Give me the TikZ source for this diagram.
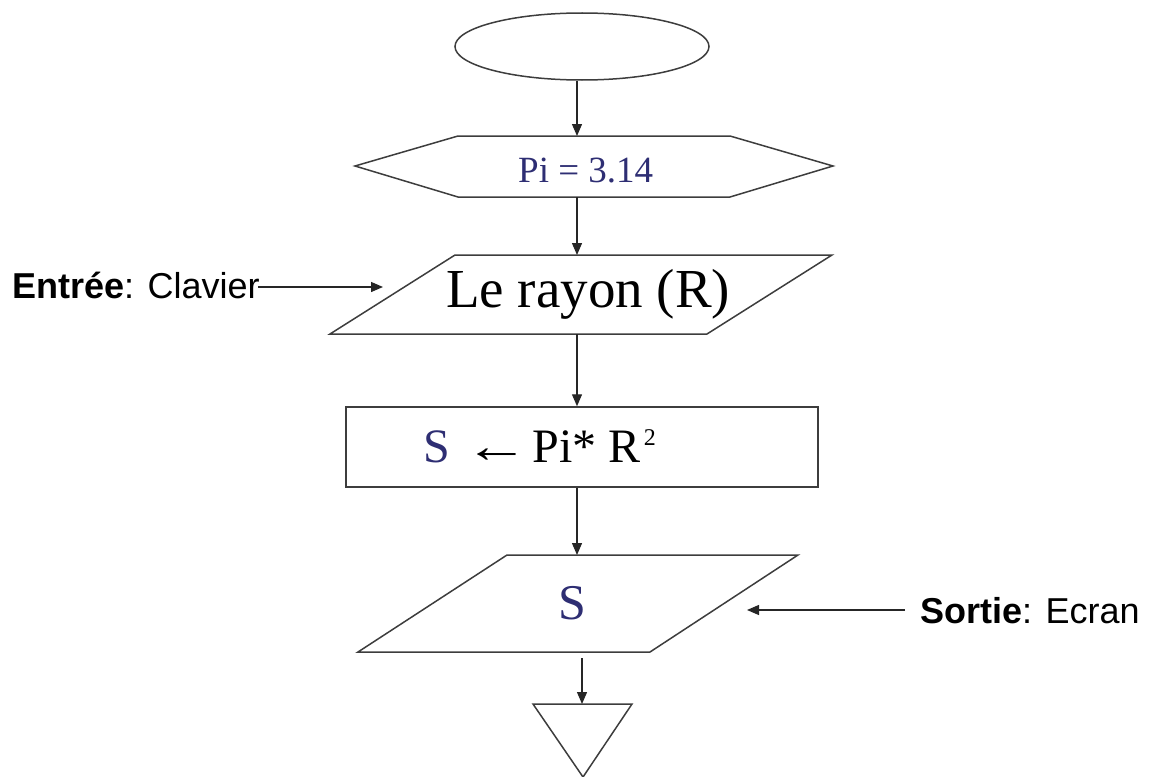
\documentclass[tikz,border=0pt]{standalone}
\usepackage{fontspec}
\usepackage{graphicx}
\setmainfont{Liberation Serif}
\newfontfamily\arialf{Liberation Sans}
\usetikzlibrary{arrows.meta,shapes.geometric}
\definecolor{linegray}{rgb}{0.24,0.24,0.24}
\definecolor{txtblue}{rgb}{0.18,0.18,0.45}
\tikzset{
  outline/.style={draw=linegray, line width=1.5pt, line join=miter},
  arr/.style={draw=black!85, line width=1.3pt, -{Triangle[length=12pt,width=10pt]}},
  lbl/.style={inner sep=0pt, font=\arialf\fontsize{36}{40}\selectfont},
  txt/.style={inner sep=0pt}
}
\begin{document}
\begin{tikzpicture}[x=1pt,y=-1pt]
\useasboundingbox (0,0) rectangle (1150,776);
% start ellipse
\node[ellipse, outline, minimum width=254pt, minimum height=67pt, inner sep=0pt] (start) at (582,46.5) {};
% hexagon
\draw[outline] (355,166) -- (458,136) -- (730,136) -- (833,166) -- (730,197) -- (458,197) -- cycle;
\node[txt, anchor=base west, text=txtblue, font=\fontsize{37}{40}\selectfont] (init) at (518,182) {Pi = 3.14};
\coordinate (hexT) at (577,136);
\coordinate (hexB) at (577,197);
% input parallelogram
\draw[outline] (455,255) -- (832,255) -- (707,334) -- (330,334) -- cycle;
\node[txt, anchor=base west, font=\fontsize{55}{60}\selectfont] (input) at (446,307) {Le rayon (R)};
\coordinate (p1T) at (577,255);
\coordinate (p1B) at (577,334);
% assignment rectangle
\node[outline, rectangle, minimum width=472pt, minimum height=80pt, inner sep=0pt] (assign) at (582,447) {};
\node[txt, anchor=base west, font=\fontsize{48}{52}\selectfont] (calc) at (423,462) {\textcolor{txtblue}{S}\hspace{15pt}\scalebox{1.35}[1]{\char"2190}\hspace{3pt}Pi* R\hspace{3pt}\raisebox{17pt}{\fontsize{24}{24}\selectfont 2}};
% output parallelogram
\draw[outline] (507,555) -- (798,555) -- (650,652) -- (358,652) -- cycle;
\node[txt, anchor=base, text=txtblue, font=\fontsize{50}{54}\selectfont] (output) at (572,619) {S};
\coordinate (p2T) at (577,555);
\coordinate (p2B) at (582,658);
% end triangle
\draw[outline] (533,704) -- (632,704) -- (583,777) -- cycle;
\coordinate (triT) at (582,704);
% side labels
\node[lbl, anchor=base west] (entree) at (12,298) {\textbf{Entrée}: Clavier};
\coordinate (in1) at (383,287);
\node[lbl, anchor=base west, inner xsep=15pt] (sortie) at (905,623) {\textbf{Sortie}: Ecran};
\coordinate (out1) at (747,610);
% connectors
\draw[arr] (start.south -| hexT) -- (hexT);
\draw[arr] (hexB) -- (p1T);
\draw[arr] (p1B) -- (assign.north -| p1B);
\draw[arr] (assign.south -| p2T) -- (p2T);
\draw[arr] (p2B) -- (triT);
\draw[arr] ([xshift=-2pt]entree.east |- in1) -- (in1);
\draw[arr] (sortie.west |- out1) -- (out1);
\end{tikzpicture}
\end{document}
